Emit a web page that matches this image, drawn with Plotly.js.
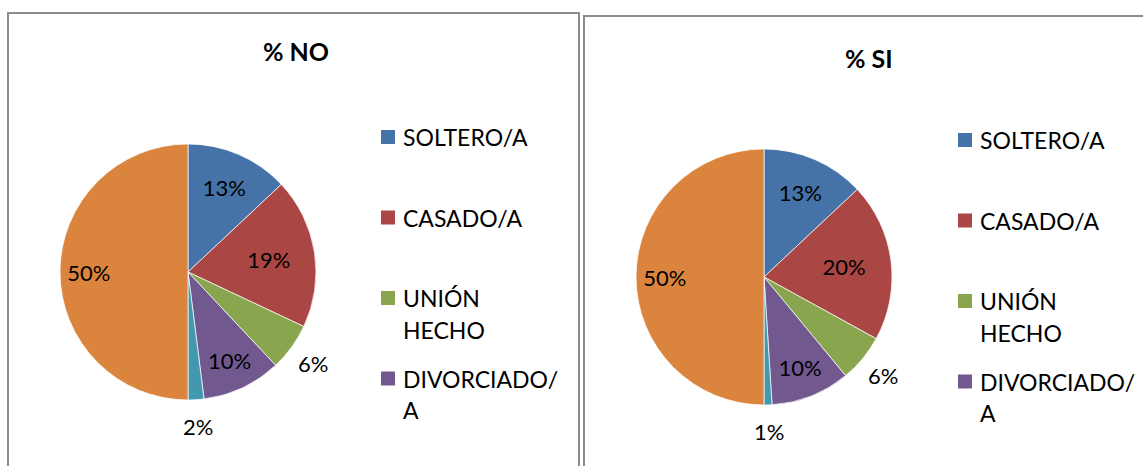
<!DOCTYPE html>
<html>
<head>
<meta charset="utf-8">
<script src="https://cdn.plot.ly/plotly-3.0.1.min.js"></script>
<style>
  html, body { margin: 0; padding: 0; background: #ffffff; }
  #chart { width: 1143px; height: 466px; }
</style>
</head>
<body>
<div id="chart"></div>
<script>
// ---- data ----
var categories = ["SOLTERO/A", "CASADO/A", "UNIÓN HECHO", "DIVORCIADO/A", "VIUDO/A", "TOTAL"];
var valuesNo = [13, 19, 6, 10, 2, 50];
var valuesSi = [13, 20, 6, 10, 1, 50];
var chartTitles = ["% NO", "% SI"];
var legendCount = 4; // only the first four legend entries are visible in the original

// ---- styles ----
var colors = ["#4572A7", "#AA4643", "#89A54E", "#71588F", "#4198AF", "#DB843D"];
// how each slice's label is placed: "in" = plain inside, "ring" = inside but pushed outward, "out" = outside
var labelMode = ["in", "in", "out", "in", "out", "ring"];
var FONT = "Lato, 'Open Sans', sans-serif";
var LABEL_SIZE = 22;
var W = 1143, H = 466;

function px(x) { return x / W; }
function py(y) { return 1 - y / H; }

function tmpl(mode) {
  return labelMode.map(function (m) { return m === mode ? "%{percent:.0%}" : ""; });
}

function domainOf(cx, cy, r) {
  return { x: [px(cx - r), px(cx + r)], y: [py(cy + r), py(cy - r)] };
}

function pieTrace(values, cx, cy, r) {
  return {
    type: "pie",
    labels: categories,
    values: values,
    sort: false,
    direction: "clockwise",
    rotation: 0,
    texttemplate: tmpl("in"),
    textposition: "inside",
    insidetextorientation: "horizontal",
    insidetextfont: { family: FONT, size: LABEL_SIZE, color: "#000000" },
    marker: { colors: colors, line: { color: "rgba(255,255,255,0.7)", width: 1 } },
    domain: domainOf(cx, cy, r),
    showlegend: false,
    hoverinfo: "label+percent"
  };
}

// transparent overlay of the same pie with a hole: pushes the big slice's label outward
function ringTrace(values, cx, cy, r) {
  return {
    type: "pie",
    labels: categories,
    values: values,
    sort: false,
    direction: "clockwise",
    rotation: 0,
    hole: 0.55,
    texttemplate: tmpl("ring"),
    textposition: "inside",
    insidetextorientation: "horizontal",
    insidetextfont: { family: FONT, size: LABEL_SIZE, color: "#000000" },
    marker: { colors: categories.map(function () { return "rgba(0,0,0,0)"; }), line: { width: 0 } },
    domain: domainOf(cx, cy, r),
    showlegend: false,
    hoverinfo: "skip"
  };
}

function wrap(label, maxLen) {
  if (label.length <= maxLen) return [label];
  var sp = label.lastIndexOf(" ", maxLen);
  if (sp > 0) return [label.slice(0, sp), label.slice(sp + 1)];
  var sl = label.lastIndexOf("/", maxLen);
  if (sl > 0) return [label.slice(0, sl + 1), label.slice(sl + 1)];
  return [label];
}

var annotations = [];
var shapes = [];

// panel frames
shapes.push({ type: "rect", xref: "paper", yref: "paper",
  x0: px(8), x1: px(579), y0: py(480), y1: py(13),
  line: { color: "#8c8c8c", width: 2 }, fillcolor: "rgba(0,0,0,0)" });
shapes.push({ type: "rect", xref: "paper", yref: "paper",
  x0: px(584), x1: px(1160), y0: py(480), y1: py(16),
  line: { color: "#8c8c8c", width: 2 }, fillcolor: "rgba(0,0,0,0)" });

function addTitle(text, x, y) {
  annotations.push({ xref: "paper", yref: "paper", x: px(x), y: py(y),
    xanchor: "center", yanchor: "middle", showarrow: false,
    text: "<b>" + text + "</b>", font: { family: FONT, size: 25, color: "#000000" } });
}

// outside labels, placed on each slice's bisector (derived from the values)
function addOutsideLabels(values, cx, cy, r) {
  var total = values.reduce(function (a, b) { return a + b; }, 0);
  var cum = 0;
  for (var i = 0; i < values.length; i++) {
    var frac = values[i] / total;
    var ang = (cum + frac / 2) * 2 * Math.PI;
    cum += frac;
    if (labelMode[i] !== "out") continue;
    var d = r * 1.21;
    annotations.push({ xref: "paper", yref: "paper",
      x: px(cx + d * Math.sin(ang)), y: py(cy - d * Math.cos(ang)),
      xanchor: "center", yanchor: "middle", showarrow: false,
      text: Math.round(frac * 100) + "%",
      font: { family: FONT, size: LABEL_SIZE, color: "#000000" } });
  }
}

function addLegend(sqX, textX, y0) {
  var step = 80.5, lh = 31.5, sq = 14;
  for (var i = 0; i < legendCount; i++) {
    var yc = y0 + i * step;
    shapes.push({ type: "rect", xref: "paper", yref: "paper",
      x0: px(sqX), x1: px(sqX + sq), y0: py(yc + sq / 2), y1: py(yc - sq / 2),
      line: { width: 0 }, fillcolor: colors[i] });
    var lines = wrap(categories[i], 10);
    for (var j = 0; j < lines.length; j++) {
      annotations.push({ xref: "paper", yref: "paper", x: px(textX), y: py(yc + j * lh),
        xanchor: "left", yanchor: "middle", showarrow: false,
        text: lines[j], font: { family: FONT, size: 23, color: "#000000" } });
    }
  }
}

var pies = [
  { values: valuesNo, cx: 188, cy: 272, r: 128 },
  { values: valuesSi, cx: 764, cy: 277, r: 128 }
];

addTitle(chartTitles[0], 296, 51);
addTitle(chartTitles[1], 869, 58);
addLegend(381, 401, 137);
addLegend(958, 978, 140);

var data = [];
pies.forEach(function (p) {
  data.push(pieTrace(p.values, p.cx, p.cy, p.r));
  data.push(ringTrace(p.values, p.cx, p.cy, p.r));
  addOutsideLabels(p.values, p.cx, p.cy, p.r);
});

var layout = {
  width: W, height: H,
  margin: { l: 0, r: 0, t: 0, b: 0 },
  paper_bgcolor: "#ffffff",
  plot_bgcolor: "#ffffff",
  showlegend: false,
  font: { family: FONT, color: "#000000" },
  annotations: annotations,
  shapes: shapes
};

Plotly.newPlot("chart", data, layout, { displayModeBar: false, staticPlot: true });
</script>
</body>
</html>
